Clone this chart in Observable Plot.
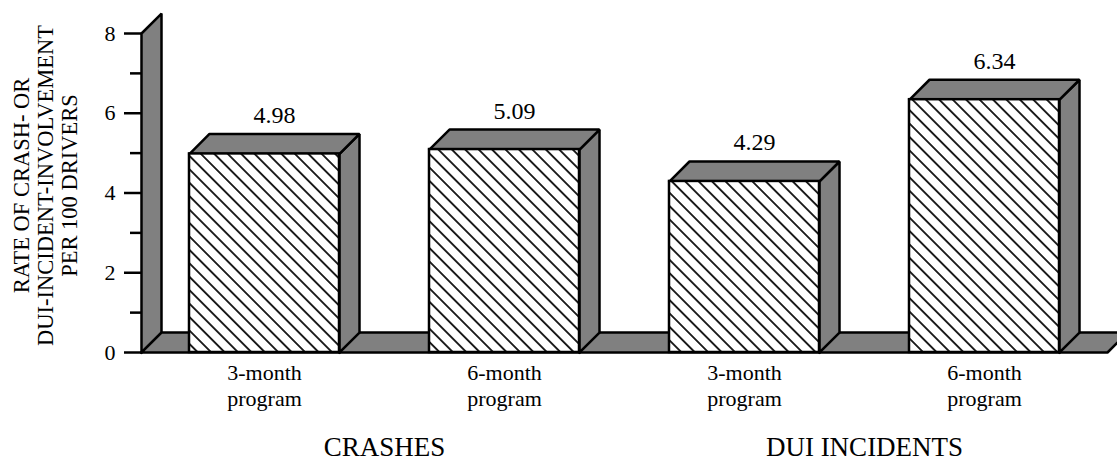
<!DOCTYPE html>
<html>
<head>
<meta charset="utf-8">
<script src="https://cdn.jsdelivr.net/npm/d3@7"></script>
<script src="https://cdn.jsdelivr.net/npm/@observablehq/plot@0.6"></script>
<style>
  html, body { margin: 0; padding: 0; background: #fff; }
  #chart svg { display: block; }
</style>
</head>
<body>
<svg width="0" height="0" style="position:absolute">
  <defs>
    <pattern id="hatch" patternUnits="userSpaceOnUse" width="9.5" height="9.5" patternTransform="rotate(-45)">
      <rect width="9.5" height="9.5" fill="white"></rect>
      <line x1="4.75" y1="0" x2="4.75" y2="9.5" stroke="black" stroke-width="1.7"></line>
    </pattern>
  </defs>
</svg>
<div id="chart"></div>
<script>
// ---- data ----
const programs = ["3-month\nprogram", "6-month\nprogram", "3-month\nprogram", "6-month\nprogram"];
const groups = ["CRASHES", "CRASHES", "DUI INCIDENTS", "DUI INCIDENTS"];
const rates = [4.98, 5.09, 4.29, 6.34];
const yTicks = [0, 2, 4, 6, 8];
const yMinorTicks = [1, 3, 5, 7];
const yTitle = "RATE OF CRASH- OR\nDUI-INCIDENT-INVOLVEMENT\nPER 100 DRIVERS";

// ---- layout constants (index units / value units) ----
const H = 0.3125;        // half bar width
const DX = 20 / 240;     // 3-D depth, horizontal
const DY = 0.5;          // 3-D depth, vertical
const XMIN = -0.5125, XMAX = 3.5125;
const YMAX = 8;

const bars = rates.map((v, i) => ({i, v, program: programs[i], group: groups[i]}));
const groupNames = [...new Set(groups)];
const groupLabels = groupNames.map(g => ({group: g, x: d3.mean(bars.filter(b => b.group === g), b => b.i)}));

const poly = (id, pts) => pts.concat([pts[0]]).map(([x, y]) => ({id, x, y}));
const wall = poly("wall", [[XMIN, 0], [XMIN, YMAX], [XMIN + DX, YMAX + DY], [XMIN + DX, DY]]);
const floor = poly("floor", [[XMIN, 0], [XMAX, 0], [XMAX + DX, DY], [XMIN + DX, DY]]);
const sides = bars.flatMap(b => poly("side" + b.i, [[b.i + H, 0], [b.i + H + DX, DY], [b.i + H + DX, b.v + DY], [b.i + H, b.v]]));
const tops = bars.flatMap(b => poly("top" + b.i, [[b.i - H, b.v], [b.i + H, b.v], [b.i + H + DX, b.v + DY], [b.i - H + DX, b.v + DY]]));

const gray = "#808080";
const faceStyle = {x: "x", y: "y", z: "id", fill: gray, stroke: "black", strokeWidth: 2.5, strokeLinejoin: "miter", strokeLinecap: "square"};

const chart = Plot.plot({
  width: 1117,
  height: 463,
  marginLeft: 141,
  marginRight: 10,
  marginTop: 33,
  marginBottom: 111,
  style: {fontFamily: "'Liberation Serif', 'Times New Roman', serif", background: "white", color: "black", overflow: "visible"},
  x: {domain: [XMIN, XMAX], axis: null},
  y: {domain: [0, YMAX], axis: null},
  marks: [
    Plot.line(wall, faceStyle),
    Plot.line(floor, faceStyle),
    Plot.line(sides, faceStyle),
    Plot.line(tops, faceStyle),
    Plot.rect(bars, {x1: d => d.i - H, x2: d => d.i + H, y1: 0, y2: d => d.v, fill: "url(#hatch)", stroke: "black", strokeWidth: 2.5, strokeLinejoin: "miter"}),
    Plot.axisY({ticks: yTicks, tickSize: 17, tickPadding: 9, strokeWidth: 2.5, fontSize: 22, label: null, anchor: "left"}),
    Plot.axisY({ticks: yMinorTicks, tickSize: 11, strokeWidth: 2.5, tickFormat: () => "", label: null, anchor: "left"}),
    Plot.text(bars, {x: d => d.i + DX / 2, y: d => d.v + DY, dy: -11, lineAnchor: "bottom", text: d => d.v.toFixed(2), fontSize: 24, fill: "black"}),
    Plot.text(bars, {x: "i", frameAnchor: "bottom", dy: 10, lineAnchor: "top", lineHeight: 1.15, text: "program", fontSize: 22, fill: "black"}),
    Plot.text(groupLabels, {x: "x", frameAnchor: "bottom", dy: 103, lineAnchor: "bottom", text: "group", fontSize: 27, fill: "black"}),
    Plot.text([yTitle], {frameAnchor: "left", textAnchor: "middle", lineAnchor: "middle", rotate: -90, dx: -96, dy: -7.5, lineHeight: 1.05, text: d => d, fontSize: 22.5, fill: "black"})
  ]
});
document.getElementById("chart").appendChild(chart);
</script>
</body>
</html>
